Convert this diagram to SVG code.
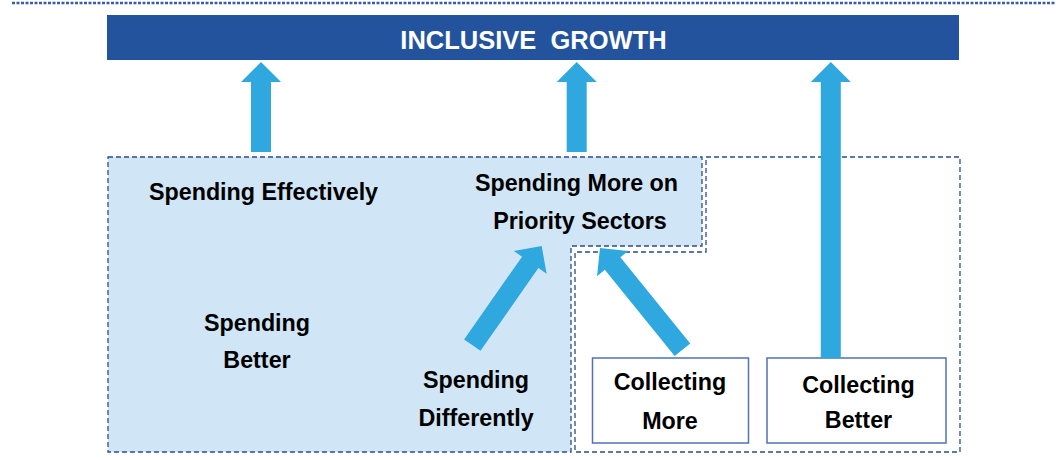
<svg xmlns="http://www.w3.org/2000/svg" width="1056" height="460" viewBox="0 0 1056 460">
<style>
.lbl{font-family:"Liberation Sans",Arial,sans-serif;font-weight:bold;font-size:23.3px;fill:#000;text-anchor:middle}
.title{font-family:"Liberation Sans",Arial,sans-serif;font-weight:bold;font-size:25.5px;fill:#fff;text-anchor:middle}
.dash{stroke:#2B4F82;stroke-width:1.3;stroke-dasharray:5 3}
.box{fill:#fff;stroke:#4F72B8;stroke-width:1.5}
.arrow{fill:#2EA8DF}
</style>
<rect width="1056" height="460" fill="#fff"/>
<line x1="12" y1="3" x2="1056" y2="3" stroke="#3A5DAE" stroke-width="2.5" stroke-dasharray="3 1.5"/>

<g id="inclusive-growth">
<rect x="107" y="15" width="852" height="45" fill="#23539D"/>
<text class="title" x="533.5" y="48.5">INCLUSIVE&#160; GROWTH</text>
</g>

<g id="spending-better-region">
<path class="dash" d="M108,157 H702 V246 H571 V452 H108 Z" fill="#D0E6F6"/>
</g>
<g id="collecting-region">
<path class="dash" d="M706,157 H960 V452 H575 V252 H706 Z" fill="none"/>
</g>

<g id="spending-effectively"><text class="lbl" x="263.5" y="200">Spending Effectively</text></g>
<g id="priority-sectors">
<text class="lbl" x="576.5" y="191">Spending More on</text>
<text class="lbl" x="580" y="229">Priority Sectors</text>
</g>
<g id="spending-better">
<text class="lbl" x="257" y="331">Spending</text>
<text class="lbl" x="257" y="368">Better</text>
</g>
<g id="spending-differently">
<text class="lbl" x="476" y="387.5">Spending</text>
<text class="lbl" x="476" y="425.5">Differently</text>
</g>
<g id="collecting-more">
<rect class="box" x="592.5" y="358" width="156" height="85"/>
<text class="lbl" x="670" y="390">Collecting</text>
<text class="lbl" x="670" y="429">More</text>
</g>
<g id="collecting-better">
<rect class="box" x="767" y="358" width="179" height="85"/>
<text class="lbl" x="858.5" y="393">Collecting</text>
<text class="lbl" x="858.5" y="428">Better</text>
</g>

<g id="connectors" class="arrow">
<polygon points="261,62 281,82 271,82 271,152 251,152 251,82 241,82"/>
<polygon points="576.7,62 596.7,82 586.7,82 586.7,152 566.7,152 566.7,82 556.7,82"/>
<polygon points="830.8,62 850.8,82 840.8,82 840.8,358 820.8,358 820.8,82 810.8,82"/>
<polygon transform="translate(541.7,246) rotate(35)" points="0,0 20,20 10,20 10,121 -10,121 -10,20 -20,20"/>
<polygon transform="translate(600,248) rotate(-39)" points="0,0 20,20 10,20 10,131 -10,131 -10,20 -20,20"/>
</g>
</svg>
